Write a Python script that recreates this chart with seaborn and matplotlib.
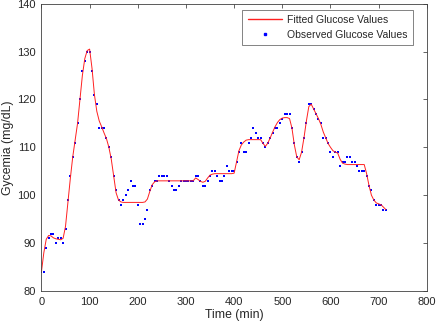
import numpy as np
import pandas as pd
import matplotlib
matplotlib.use('Agg')
import matplotlib.pyplot as plt
from matplotlib.lines import Line2D
import seaborn as sns

# observed glucose, one sample every 5 min from t=0 to t=715
obs_time = list(range(0, 720, 5))
obs_glucose = [
    84, 84, 89, 91, 92, 92, 90, 91, 91, 90,
    93, 99, 104, 108, 111, 115, 120, 126, 128, 130,
    130, 126, 121, 119, 114, 114, 114, 112, 110, 108,
    104, 101, 99, 98, 99, 100, 101, 103, 102, 102,
    98, 94, 94, 95, 97, 101, 102, 103, 103, 104,
    104, 104, 104, 103, 102, 101, 101, 102, 103, 103,
    103, 103, 103, 103, 104, 104, 103, 102, 102, 103,
    104, 105, 105, 104, 103, 103, 104, 106, 105, 105,
    105, 107, 109, 111, 109, 109, 111, 112, 114, 113,
    112, 112, 111, 110, 111, 112, 113, 114, 114, 115,
    116, 117, 117, 117, 114, 111, 108, 107, 109, 112,
    115, 119, 119, 118, 117, 116, 115, 112, 112, 111,
    109, 108, 109, 109, 106, 107, 107, 108, 108, 107,
    107, 106, 105, 105, 105, 104, 102, 101, 99, 98,
    98, 98, 97, 97,
]

# fitted curve at the same times
fit_glucose = [
    84.0, 88.0, 90.8, 91.6, 91.5, 91.1, 90.9, 90.8, 90.7, 91.0,
    93.5, 98.5, 103.5, 108.0, 111.5, 115.0, 120.0, 125.0, 128.5, 130.2,
    130.5, 126.5, 121.0, 117.5, 115.5, 114.3, 113.0, 111.8, 110.0, 107.5,
    104.0, 100.5, 99.0, 98.6, 98.5, 98.5, 98.5, 98.5, 98.5, 98.5,
    98.5, 98.5, 98.5, 98.6, 99.2, 100.8, 102.2, 102.8, 103.0, 103.0,
    103.0, 103.0, 103.0, 103.0, 103.0, 103.0, 103.0, 103.0, 103.0, 103.0,
    103.0, 103.0, 103.0, 103.0, 103.6, 103.3, 102.9, 102.7, 102.9, 103.6,
    104.2, 104.4, 104.5, 104.5, 104.5, 104.5, 104.5, 104.5, 104.5, 104.5,
    104.6, 107.0, 109.3, 110.5, 111.1, 111.5, 111.6, 111.6, 111.6, 111.6,
    111.6, 111.6, 110.8, 110.2, 110.9, 112.0, 113.2, 114.3, 115.2, 115.8,
    116.1, 116.2, 116.2, 116.0, 114.0, 110.5, 108.0, 107.4, 109.0, 112.0,
    115.5, 118.5, 119.0, 118.0, 117.0, 116.0, 114.8, 113.2, 112.0, 110.8,
    110.0, 109.3, 109.0, 108.8, 107.5, 106.7, 106.5, 106.4, 106.4, 106.4,
    106.4, 106.4, 106.4, 106.4, 106.4, 104.5, 102.0, 100.0, 99.0, 98.4,
    98.2, 98.0, 97.5, 97.0,
]

x_ticks = [0, 100, 200, 300, 400, 500, 600, 700, 800]
y_ticks = [80, 90, 100, 110, 120, 130, 140]

df = pd.DataFrame({'time': obs_time, 'observed': obs_glucose, 'fitted': fit_glucose})

sns.set_style('white')
plt.rcParams['font.family'] = ['Liberation Sans', 'DejaVu Sans']
edge = '#262626'
red = '#ff2020'

fig = plt.figure(figsize=(4.36, 3.27), dpi=100)
ax = fig.add_axes([0.095, 0.110, 0.884, 0.879])

sns.lineplot(data=df, x='time', y='fitted', color=red, linewidth=0.7, ax=ax)
sns.scatterplot(data=df, x='time', y='observed', color='blue', marker='s',
                s=4, linewidth=0, ax=ax)

ax.set_xlim(0, 800)
ax.set_ylim(80, 140)
ax.set_xticks(x_ticks)
ax.set_yticks(y_ticks)
ax.set_xlabel('Time (min)', fontsize=8.8, color=edge, labelpad=2)
ax.set_ylabel('Gycemia (mg/dL)', fontsize=8.8, color=edge, labelpad=2)

ax.tick_params(direction='in', length=3, width=0.5, labelsize=8,
               colors=edge, top=True, right=True, pad=4)
for sp in ax.spines.values():
    sp.set_color('#404040')
    sp.set_linewidth(0.6)

handles = [Line2D([], [], color=red, linewidth=1.0),
           Line2D([], [], color='blue', marker='s', markersize=2, linestyle='none')]
leg = ax.legend(handles, ['Fitted Glucose Values', 'Observed Glucose Values'],
                loc='upper right', bbox_to_anchor=(0.964, 0.978),
                fontsize=7.5, frameon=True, fancybox=False,
                borderpad=0.5, labelspacing=0.45, handlelength=3.3,
                handletextpad=0.5, borderaxespad=0.0)
leg.get_frame().set_edgecolor(edge)
leg.get_frame().set_linewidth(0.5)

fig.savefig('out.png', dpi=100)
